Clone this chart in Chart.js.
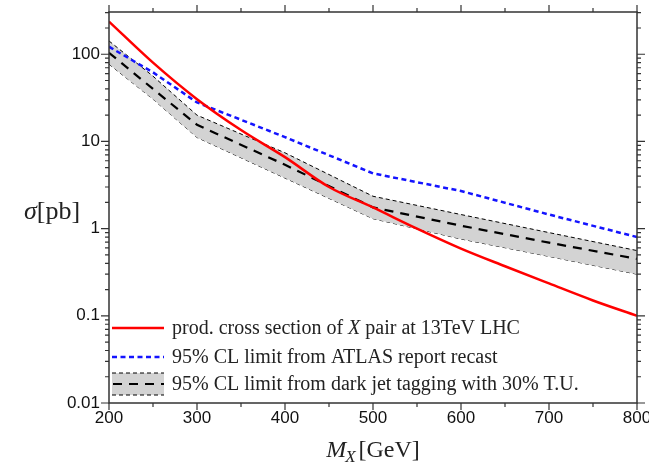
<!DOCTYPE html>
<html>
<head>
<meta charset="utf-8">
<script src="https://cdn.jsdelivr.net/npm/chart.js@4.4.0/dist/chart.umd.min.js"></script>
<style>
    html, body { margin: 0; padding: 0; background: #fff; }
    #contenedor { width: 649px; height: 470px; }
</style>
</head>
<body>
<div id="contenedor"><canvas id="graficaSigma"></canvas></div>
<script>
// Masas (GeV) y secciones eficaces (pb)
const masasProd = [200, 250, 300, 350, 400, 450, 500, 550, 600, 650, 700, 750, 800];
const seccionProd = [237, 80, 30.5, 13.5, 6.6, 3.0, 1.75, 1.0, 0.59, 0.37, 0.235, 0.15, 0.1];

const masasLimite = [200, 250, 300, 400, 500, 600, 700, 800];
const limiteAtlas = [122, 62, 28, 11.2, 4.3, 2.7, 1.45, 0.8];
const limiteJet = [104, 40, 15.5, 5.4, 1.75, 1.08, 0.69, 0.45];
const limiteJetSup = [142, 56, 20, 7.4, 2.35, 1.45, 0.9, 0.56];
const limiteJetInf = [77, 30.5, 11.1, 3.8, 1.3, 0.76, 0.48, 0.30];

const ticksX = [200, 300, 400, 500, 600, 700, 800];
const ticksY = [0.01, 0.1, 1, 10, 100];

const textoLeyenda = [
    ['prod. cross section of ', 'X', ' pair at 13TeV LHC'],
    ['95% CL limit from ATLAS report recast'],
    ['95% CL limit from dark jet tagging with 30% T.U.']
];

const rojo = 'rgb(255, 0, 0)';
const azul = 'rgb(20, 20, 255)';
const grisBanda = '#d3d3d3';
const colorEje = '#333';

const puntos = (xs, ys) => xs.map((x, i) => ({ x: x, y: ys[i] }));

const fuenteSerif = '"Liberation Serif", "DejaVu Serif", serif';
const fuenteTicks = '"Liberation Sans", Arial, sans-serif';

// Texto con tramos alternos normal / cursiva
function textoMixto(ctx, partes, x, y, tam) {
    partes.forEach((p, i) => {
        ctx.font = (i % 2 === 1 ? 'italic ' : '') + tam + 'px ' + fuenteSerif;
        ctx.fillText(p, x, y);
        x += ctx.measureText(p).width;
    });
}

const marcoYLeyenda = {
    id: 'marcoYLeyenda',
    afterDraw(chart) {
        const ctx = chart.ctx;
        const area = chart.chartArea;
        const ex = chart.scales.x;
        const ey = chart.scales.y;
        ctx.save();

        // marco
        ctx.strokeStyle = colorEje;
        ctx.lineWidth = 1.5;
        ctx.strokeRect(area.left, area.top, area.right - area.left, area.bottom - area.top);

        // marcas del eje x (hacia fuera, arriba y abajo)
        ctx.lineWidth = 1.2;
        ctx.beginPath();
        for (let v = ex.min; v <= ex.max; v += 50) {
            const px = ex.getPixelForValue(v);
            const largo = v % 100 === 0 ? 7 : 4;
            ctx.moveTo(px, area.bottom);
            ctx.lineTo(px, area.bottom + largo);
            ctx.moveTo(px, area.top);
            ctx.lineTo(px, area.top - largo);
        }
        // marcas logarítmicas del eje y
        for (let e = -2; e <= 2; e++) {
            for (let m = 1; m <= 9; m++) {
                const v = m * Math.pow(10, e);
                if (v > ey.max) break;
                const py = ey.getPixelForValue(v);
                const largo = m === 1 ? 8 : 4;
                ctx.moveTo(area.left - largo, py);
                ctx.lineTo(area.left, py);
                ctx.moveTo(area.right, py);
                ctx.lineTo(area.right + largo, py);
            }
        }
        ctx.stroke();

        // títulos de los ejes
        ctx.fillStyle = '#222';
        ctx.textBaseline = 'middle';
        ctx.textAlign = 'left';
        textoMixto(ctx, ['', 'σ', '[pb]'], 24, 212, 26);

        ctx.font = 'italic 24px ' + fuenteSerif;
        const anchoM = ctx.measureText('M').width;
        ctx.font = 'italic 17px ' + fuenteSerif;
        const anchoSub = ctx.measureText('X').width;
        ctx.font = '24px ' + fuenteSerif;
        const anchoGeV = ctx.measureText('[GeV]').width;
        let xt = (area.left + area.right) / 2 - (anchoM + anchoSub + 2 + anchoGeV) / 2;
        ctx.font = 'italic 24px ' + fuenteSerif;
        ctx.fillText('M', xt, 451);
        xt += anchoM;
        ctx.font = 'italic 17px ' + fuenteSerif;
        ctx.fillText('X', xt - 1, 458);
        xt += anchoSub + 2;
        ctx.font = '24px ' + fuenteSerif;
        ctx.fillText('[GeV]', xt, 451);

        // leyenda
        const ds = chart.data.datasets;
        const x0 = area.left + 3, x1 = area.left + 55, xTexto = area.left + 63;
        const filas = [328, 357, 384];

        ctx.lineWidth = ds[0].borderWidth;
        ctx.strokeStyle = ds[0].borderColor;
        ctx.setLineDash([]);
        ctx.beginPath(); ctx.moveTo(x0, filas[0]); ctx.lineTo(x1, filas[0]); ctx.stroke();

        ctx.lineWidth = ds[1].borderWidth;
        ctx.strokeStyle = ds[1].borderColor;
        ctx.setLineDash(ds[1].borderDash);
        ctx.beginPath(); ctx.moveTo(x0, filas[1]); ctx.lineTo(x1, filas[1]); ctx.stroke();

        ctx.fillStyle = ds[3].backgroundColor;
        ctx.fillRect(x0, filas[2] - 11, x1 - x0, 22);
        ctx.lineWidth = ds[3].borderWidth;
        ctx.strokeStyle = ds[3].borderColor;
        ctx.setLineDash(ds[3].borderDash);
        ctx.beginPath();
        ctx.moveTo(x0, filas[2] - 11); ctx.lineTo(x1, filas[2] - 11);
        ctx.moveTo(x0, filas[2] + 11); ctx.lineTo(x1, filas[2] + 11);
        ctx.stroke();
        ctx.lineWidth = ds[2].borderWidth;
        ctx.strokeStyle = ds[2].borderColor;
        ctx.setLineDash(ds[2].borderDash);
        ctx.beginPath(); ctx.moveTo(x0 + 1, filas[2]); ctx.lineTo(x1, filas[2]); ctx.stroke();
        ctx.setLineDash([]);

        ctx.fillStyle = '#222';
        textoLeyenda.forEach((partes, i) => textoMixto(ctx, partes, xTexto, filas[i] + 1, 20));

        ctx.restore();
    }
};

const ctx = document.getElementById('graficaSigma').getContext('2d');

new Chart(ctx, {
    type: 'line',
    data: {
        datasets: [
            {
                label: 'prod. cross section of X pair at 13TeV LHC',
                data: puntos(masasProd, seccionProd),
                borderColor: rojo,
                borderWidth: 2.5,
                cubicInterpolationMode: 'monotone',
                pointRadius: 0,
                fill: false
            },
            {
                label: '95% CL limit from ATLAS report recast',
                data: puntos(masasLimite, limiteAtlas),
                borderColor: azul,
                borderWidth: 2.5,
                borderDash: [5, 3.5],
                pointRadius: 0,
                fill: false
            },
            {
                label: '95% CL limit from dark jet tagging with 30% T.U.',
                data: puntos(masasLimite, limiteJet),
                borderColor: '#000',
                borderWidth: 2.2,
                borderDash: [9, 7],
                pointRadius: 0,
                fill: false
            },
            {
                label: 'banda superior',
                data: puntos(masasLimite, limiteJetSup),
                borderColor: '#000',
                backgroundColor: grisBanda,
                borderWidth: 1,
                borderDash: [4, 3],
                pointRadius: 0,
                fill: '+1'
            },
            {
                label: 'banda inferior',
                data: puntos(masasLimite, limiteJetInf),
                borderColor: '#000',
                borderWidth: 1,
                borderDash: [4, 3],
                pointRadius: 0,
                fill: false
            }
        ]
    },
    options: {
        responsive: true,
        maintainAspectRatio: false,
        animation: false,
        layout: { padding: { top: 12, right: 12, left: 0, bottom: 0 } },
        scales: {
            x: {
                type: 'linear',
                min: 200,
                max: 800,
                grid: { display: false, drawTicks: false },
                border: { display: false },
                afterBuildTicks: scale => { scale.ticks = ticksX.map(v => ({ value: v })); },
                afterFit: scale => {
                    scale.height = 67;
                    scale.paddingLeft = 0;
                    scale.paddingRight = 0;
                },
                ticks: {
                    padding: 5,
                    maxRotation: 0,
                    color: '#111',
                    font: { family: fuenteTicks, size: 17 },
                    callback: v => String(v)
                }
            },
            y: {
                type: 'logarithmic',
                min: 0.01,
                max: 305,
                grid: { display: false, drawTicks: false },
                border: { display: false },
                afterBuildTicks: scale => { scale.ticks = ticksY.map(v => ({ value: v, major: true })); },
                afterFit: scale => {
                    scale.width = 109;
                    scale.paddingTop = 0;
                    scale.paddingBottom = 0;
                },
                ticks: {
                    padding: 9,
                    color: '#111',
                    font: { family: fuenteTicks, size: 17 },
                    callback: v => String(v)
                }
            }
        },
        plugins: {
            legend: { display: false },
            tooltip: { enabled: false }
        }
    },
    plugins: [marcoYLeyenda]
});
</script>
</body>
</html>
